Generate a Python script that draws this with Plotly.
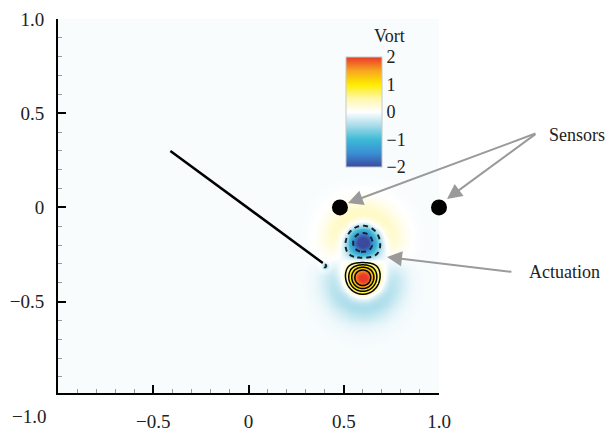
import numpy as np
import plotly.graph_objects as go

# ---- data -------------------------------------------------------------
# shielded vortex cores: centre, peak vorticity, core radius
vortex_x = [0.60, 0.60, 0.40]
vortex_y = [-0.18, -0.38, -0.31]
vortex_peak = [-2.1, 2.1, -0.5]
vortex_radius = [0.113, 0.113, 0.02]

# broad, weak vorticity patches around the pair
halo_x = [0.59, 0.60]
halo_y = [-0.13, -0.45]
halo_peak = [0.14, -0.2]
halo_radius = [0.16, 0.16]

background_vort = -0.04

plate_x = [-0.41, 0.39]
plate_y = [0.30, -0.295]

sensor_x = [0.48, 1.0]
sensor_y = [0.0, 0.0]

# arrows: (tip x, tip y, tail x, tail y) in data units
arrows = [
    (0.522, 0.023, 1.514, 0.395),
    (1.042, 0.045, 1.514, 0.395),
    (0.727, -0.263, 1.388, -0.343),
]

x_ticks = [-0.5, 0.0, 0.5, 1.0]
x_ticktext = ["\u22120.5", "0", "0.5", "1.0"]
y_ticks = [1.0, 0.5, 0.0, -0.5]
y_ticktext = ["1.0", "0.5", "0", "\u22120.5"]
cbar_ticks = [2, 1, 0, -1, -2]
cbar_ticktext = ["2", "1", "0", "\u22121", "\u22122"]

x_range = [-1.0, 1.0]
y_range = [-0.985, 1.0]

# ---- layout geometry --------------------------------------------------
W, H = 612, 432
ML, MR, MT, MB = 58, 173, 19, 39
PW, PH = W - ML - MR, H - MT - MB
FONT = "Liberation Serif, Times New Roman, serif"
px_per_x = PW / (x_range[1] - x_range[0])
px_per_y = PH / (y_range[1] - y_range[0])


def vort_field(X, Y):
    Z = np.full_like(X, background_vort)
    for cx, cy, A, a in zip(vortex_x, vortex_y, vortex_peak, vortex_radius):
        s = ((X - cx) ** 2 + (Y - cy) ** 2) / a ** 2
        Z += A * (1.0 - s) * np.exp(-s)
    for cx, cy, A, a in zip(halo_x, halo_y, halo_peak, halo_radius):
        s = ((X - cx) ** 2 + (Y - cy) ** 2) / a ** 2
        Z += A * np.exp(-s)
    return Z


# coarse grid for the colour field
gx = np.linspace(x_range[0], x_range[1], 201)
gy = np.linspace(y_range[0], y_range[1], 200)
GX, GY = np.meshgrid(gx, gy)
Zc = np.round(vort_field(GX, GY), 3)

# fine grid around the vortex pair for the iso-lines
fx = np.linspace(0.35, 0.85, 170)
fy = np.linspace(-0.65, 0.08, 240)
FX, FY = np.meshgrid(fx, fy)
Zf = np.round(vort_field(FX, FY), 3)

colorscale = [
    [0.0, "#3b4a9f"],
    [0.125, "#3a8fd4"],
    [0.25, "#3dbad6"],
    [0.375, "#a6dbe9"],
    [0.5, "#ffffff"],
    [0.625, "#fff7a8"],
    [0.75, "#ffec00"],
    [0.875, "#f8a51f"],
    [1.0, "#e9392a"],
]

cb_len_px = 110
cb_x = (346 - ML) / PW
cb_y = (H - MB - 112) / PH
cb_thick = 36

fig = go.Figure()

fig.add_trace(go.Heatmap(
    x=gx, y=gy, z=Zc, zmin=-2, zmax=2, zsmooth="best",
    colorscale=colorscale, hoverinfo="skip",
    colorbar=dict(
        x=cb_x, xanchor="left", xpad=0,
        y=cb_y, yanchor="middle", ypad=0,
        len=cb_len_px, lenmode="pixels",
        thickness=cb_thick, thicknessmode="pixels",
        outlinewidth=1, outlinecolor="#c8c8c8",
        tickmode="array", tickvals=cbar_ticks, ticktext=cbar_ticktext,
        ticks="", ticklabelposition="outside",
        tickfont=dict(family=FONT, size=18, color="#222"),
    ),
))

# positive iso-lines (solid)
fig.add_trace(go.Contour(
    x=fx, y=fy, z=Zf, showscale=False, hoverinfo="skip",
    autocontour=False,
    contours=dict(start=0.4, end=1.6, size=0.4, coloring="none"),
    line=dict(color="black", width=1.5),
))
# negative iso-lines (dashed)
fig.add_trace(go.Contour(
    x=fx, y=fy, z=Zf, showscale=False, hoverinfo="skip",
    autocontour=False,
    contours=dict(start=-1.5, end=-0.5, size=1.0, coloring="none"),
    line=dict(color="#142230", width=2, dash="5px,4px"),
))

# plate
fig.add_trace(go.Scatter(
    x=plate_x, y=plate_y, mode="lines",
    line=dict(color="black", width=2.5), hoverinfo="skip", showlegend=False,
))
# sensors
fig.add_trace(go.Scatter(
    x=sensor_x, y=sensor_y, mode="markers", cliponaxis=False,
    marker=dict(color="black", size=16), hoverinfo="skip", showlegend=False,
))

annotations = []
for tx, ty, ax_, ay_ in arrows:
    annotations.append(dict(
        x=(tx - x_range[0]) / (x_range[1] - x_range[0]),
        y=(ty - y_range[0]) / (y_range[1] - y_range[0]),
        xref="paper", yref="paper", axref="pixel", ayref="pixel",
        ax=(ax_ - tx) * px_per_x, ay=-(ay_ - ty) * px_per_y,
        text="", showarrow=True, arrowhead=2, arrowsize=1.5,
        arrowwidth=2, arrowcolor="#9a9a9a",
    ))

label_font = dict(family=FONT, size=18, color="#222")
annotations += [
    dict(x=(547 - ML) / PW, y=(H - MB - 135) / PH, xref="paper", yref="paper",
         text="Sensors", showarrow=False, xanchor="left", yanchor="middle",
         font=label_font),
    dict(x=(527 - ML) / PW, y=(H - MB - 272) / PH, xref="paper", yref="paper",
         text="Actuation", showarrow=False, xanchor="left", yanchor="middle",
         font=label_font),
    dict(x=(389 - ML) / PW, y=(H - MB - 36) / PH, xref="paper", yref="paper",
         text="Vort", showarrow=False, xanchor="center", yanchor="middle",
         font=dict(family=FONT, size=18, color="#222")),
    dict(x=(29 - ML) / PW, y=(H - MB - 416) / PH, xref="paper", yref="paper",
         text="\u22121.0", showarrow=False, xanchor="center", yanchor="middle",
         font=dict(family=FONT, size=19, color="#222")),
]

# level marks across the colour bar
cb_x1 = cb_x + cb_thick / PW
shapes = []
for v, c in [(1, "#c9b400"), (0, "#dddddd"), (-1, "#2aa5b8")]:
    yy = cb_y + (v / 2) * (cb_len_px / 2) / PH
    shapes.append(dict(type="line", xref="paper", yref="paper",
                       x0=cb_x, x1=cb_x1, y0=yy, y1=yy,
                       line=dict(color=c, width=1)))

axis_common = dict(
    showline=True, linecolor="black", linewidth=2, mirror=False,
    showgrid=False, zeroline=False, automargin=False,
    ticks="inside", ticklen=8, tickwidth=2, tickcolor="black",
    tickfont=dict(family=FONT, size=19, color="#222"),
    minor=dict(tickmode="linear", tick0=0, dtick=0.1, ticks="inside",
               ticklen=4, tickwidth=1, tickcolor="#9a9a9a"),
)

fig.update_layout(
    width=W, height=H, autosize=False,
    margin=dict(l=ML, r=MR, t=MT, b=MB, pad=0),
    paper_bgcolor="white", plot_bgcolor="white",
    showlegend=False,
    xaxis=dict(range=x_range, tickmode="array", tickvals=x_ticks,
               ticktext=x_ticktext, ticklabelstandoff=10, **axis_common),
    yaxis=dict(range=y_range, tickmode="array", tickvals=y_ticks,
               ticktext=y_ticktext, ticklabelstandoff=8, **axis_common),
    annotations=annotations,
    shapes=shapes,
)

fig.write_html("out.html")
